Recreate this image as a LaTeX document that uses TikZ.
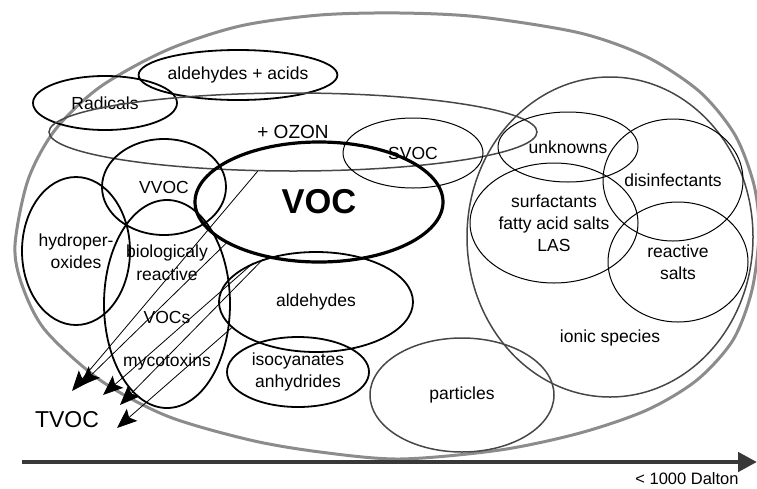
\documentclass[tikz,border=0pt]{standalone}
\usepackage{fontspec}
\setmainfont{Liberation Sans}
\usetikzlibrary{shapes.geometric, arrows.meta}

\begin{document}
\begin{tikzpicture}[x=1pt, y=-1pt,
  ell/.style={ellipse, draw, inner sep=0pt, line width=1.8pt, align=center, font=\fontsize{17.5}{22}\selectfont},
  thinell/.style={ell, line width=1pt},
  grayell/.style={ell, draw=black!72, line width=1.5pt},
  lbl/.style={inner sep=0pt, font=\fontsize{17.5}{22}\selectfont},
  tv/.style={line width=0.8pt, -{Stealth[length=20pt, width=16pt, inset=4pt]}}]
\useasboundingbox (0,0) rectangle (757,488);
\draw [line width=3pt, color=black!45] plot [smooth cycle] coordinates {
  (15,245) (28,180) (55,130) (100,87) (167,50) (240,26) (320,15) (400,13)
  (480,17) (580,33) (647,57) (700,92) (735,135) (754,185) (759,232) (752,290)
  (733,340) (697,380) (647,410) (580,433) (500,450) (400,459) (320,452)
  (250,440) (167,416) (100,380) (45,330) (22,285)};
\node [ell, minimum width=144pt, minimum height=54pt] (rad) at (105,103) {Radicals};
\node [ell, minimum width=190pt, minimum height=50pt] (aldac) at (238,75) {aldehydes + acids};
\node [grayell, minimum width=488pt, minimum height=78pt, font=\fontsize{19}{22}\selectfont] (ozon) at (293,132) {+ OZON};
\node [thinell, minimum width=140pt, minimum height=70pt] (svoc) at (413,153) {SVOC};
\node [ell, line width=3.2pt, minimum width=248pt, minimum height=120pt, font=\fontsize{34.5}{40}\selectfont\bfseries] (voc) at (319,202) {VOC};
\node [ell, minimum width=124pt, minimum height=96pt] (vvoc) at (164,187) {VVOC};
\node [ell, minimum width=108pt, minimum height=148pt] (hydro) at (76,251) {hydroper-\\oxides};
\node [ell, minimum width=126pt, minimum height=208pt] (bio) at (167,304) {};
\node [lbl] (bio1) at (167,253) {biologicaly};
\node [lbl] (bio2) at (167,274) {reactive};
\node [lbl] (bio3) at (167,317) {VOCs};
\node [lbl] (bio4) at (167,362) {mycotoxins};
\node [ell, minimum width=194pt, minimum height=100pt] (ald) at (316,302) {aldehydes};
\node [ell, minimum width=142pt, minimum height=70pt] (iso) at (298,372) {isocyanates\\anhydrides};
\node [grayell, minimum width=184pt, minimum height=114pt] (part) at (462,395) {particles};
\node [grayell, minimum width=286pt, minimum height=320pt] (ionic) at (610,237) {};
\node [lbl] (ionlbl) at (610,338) {ionic species};
\node [thinell, minimum width=140pt, minimum height=70pt] (unk) at (568,147) {unknowns};
\node [thinell, minimum width=140pt, minimum height=122pt] (dis) at (673,180) {disinfectants};
\node [thinell, minimum width=168pt, minimum height=120pt] (surf) at (554,223) {surfactants\\fatty acid salts\\LAS};
\node [thinell, minimum width=140pt, minimum height=120pt] (rsalt) at (678,262) {reactive\\salts};
\coordinate (t1) at (72,391);
\coordinate (t2) at (80,386);
\coordinate (t3) at (103,395);
\coordinate (t4) at (120,405);
\coordinate (t5) at (117,428);
\draw [tv] (ozon.228) -- (t1);
\draw [tv] (voc.204) -- (t2);
\draw [tv] (ald.148) -- (t3);
\draw [tv] (ald.141) -- (t4);
\draw [tv] (ald.197) -- (t5);
\node [inner sep=0pt, font=\fontsize{23}{26}\selectfont] (tvoc) at (67,420) {TVOC};
\coordinate (axs) at (22,462);
\coordinate (axe) at (757,462);
\draw [line width=4.5pt, color=black!78, -{Triangle[length=19pt, width=19pt]}] (axs) -- (axe);
\node [inner sep=0pt, font=\fontsize{16.5}{20}\selectfont] (dalton) at (687,479) {< 1000 Dalton};
\end{tikzpicture}
\end{document}
